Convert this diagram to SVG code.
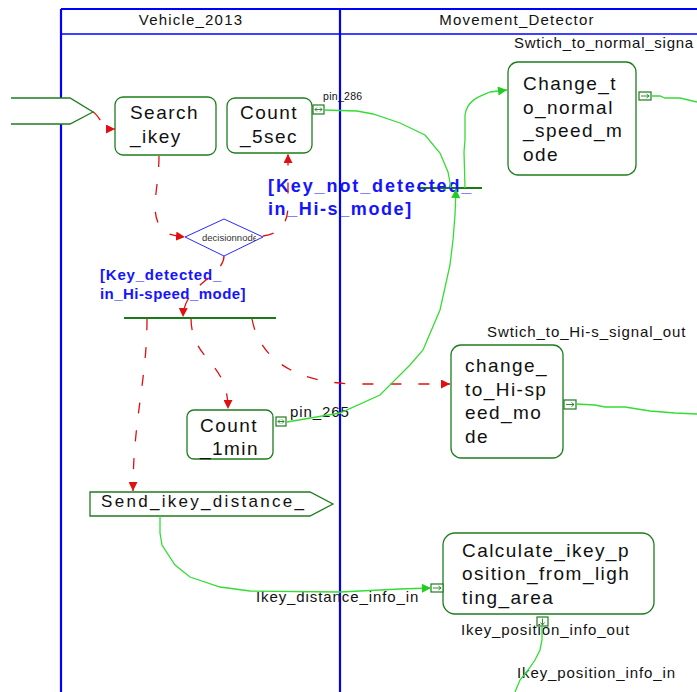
<svg xmlns="http://www.w3.org/2000/svg" width="697" height="692" viewBox="0 0 697 692">
  <defs>
    <style>
      .lane { stroke: #0000ff; stroke-width: 2.2; fill: none; }
      .laneSep { stroke: #0000ff; stroke-width: 1.4; fill: none; }
      .laneTitle { font-family: "Liberation Sans", Arial, sans-serif; font-size: 15px; letter-spacing: 1.2px; fill: #111; text-anchor: middle; }
      .node { fill: #ffffff; stroke: #1e7d1e; stroke-width: 1.3; }
      .nodeText { font-family: "Liberation Sans", Arial, sans-serif; font-size: 19px; letter-spacing: 1.45px; fill: #111; }
      .pin { fill: #ffffff; stroke: #1e7d1e; stroke-width: 1.2; }
      .pinGlyph { fill: none; stroke: #1e7d1e; stroke-width: 0.9; }
      .label { font-family: "Liberation Sans", Arial, sans-serif; font-size: 15px; letter-spacing: 0.9px; fill: #111; }
      .guard { font-family: "Liberation Sans", Arial, sans-serif; font-weight: bold; fill: #1414ff; }
      .bar { stroke: #1a7a1a; stroke-width: 2; }
      .ctrl { fill: none; stroke: #e01010; stroke-width: 1.3; stroke-dasharray: 11 17; }
      .obj { fill: none; stroke: #33dd33; stroke-width: 1.3; }
    </style>
    <marker id="redArrow" viewBox="0 0 10 10" refX="10" refY="5" markerWidth="9" markerHeight="9" markerUnits="userSpaceOnUse" orient="auto">
      <path d="M0,0 L10,5 L0,10 Z" fill="#e01010"/>
    </marker>
    <marker id="greenArrow" viewBox="0 0 10 10" refX="10" refY="5" markerWidth="10" markerHeight="9" markerUnits="userSpaceOnUse" orient="auto">
      <path d="M0,0 L10,5 L0,10 Z" fill="#22cc22"/>
    </marker>
    <clipPath id="diamondClip">
      <rect x="190" y="225" width="66" height="24"/>
    </clipPath>
  </defs>

  <!-- swimlane frame -->
  <g id="lanes">
    <line class="lane" x1="61" y1="9" x2="697" y2="9"/>
    <line class="lane" x1="61" y1="9" x2="61" y2="692"/>
    <line class="lane" x1="340" y1="9" x2="340" y2="692"/>
    <line class="laneSep" x1="61" y1="34" x2="697" y2="34"/>
    <text class="laneTitle" x="191" y="25">Vehicle_2013</text>
    <text class="laneTitle" x="517" y="25">Movement_Detector</text>
  </g>

  <!-- accept-signal entry, open on its left side -->
  <g id="input_signal">
    <polygon points="11,98 70,98 93,112 70,124 11,124" fill="#ffffff"/>
    <path class="node" d="M11,98 L70,98 L93,112 L70,124 L11,124" fill="none"/>
  </g>

  <g id="search_ikey">
    <rect class="node" x="115" y="97" width="101" height="58" rx="8"/>
    <text class="nodeText" x="130" y="119">Search</text>
    <text class="nodeText" x="130" y="143">_ikey</text>
  </g>

  <g id="count_5sec">
    <rect class="node" x="227" y="98" width="85" height="55" rx="8"/>
    <text class="nodeText" x="240" y="119">Count</text>
    <text class="nodeText" x="240" y="143">_5sec</text>
    <rect class="pin" x="313" y="105" width="11" height="9"/>
    <path class="pinGlyph" d="M315,109.5 H322 M317,107.5 L315,109.5 L317,111.5 M320,107.5 L322,109.5 L320,111.5"/>
    <text class="label" x="323" y="100" style="font-size:10.5px;letter-spacing:0.3px">pin_286</text>
  </g>

  <g id="decision">
    <polygon points="185,237 224,219 263,237 224,256" fill="#ffffff" stroke="#2a2aff" stroke-width="1"/>
    <text x="202" y="241" clip-path="url(#diamondClip)" font-family="Liberation Sans, Arial, sans-serif" font-size="9.5" fill="#333">decisionnode</text>
  </g>

  <g id="fork_lower">
    <line class="bar" x1="124" y1="318" x2="276" y2="318"/>
  </g>

  <g id="join_upper">
    <line class="bar" x1="417" y1="188" x2="482" y2="188"/>
  </g>

  <g id="count_1min">
    <rect class="node" x="187" y="410" width="86" height="49" rx="7"/>
    <text class="nodeText" x="200" y="432">Count</text>
    <text class="nodeText" x="200" y="455">_1min</text>
    <rect class="pin" x="276" y="417" width="10" height="9"/>
    <path class="pinGlyph" d="M278,421.5 H284 M280,419.5 L278,421.5 L280,423.5 M282,419.5 L284,421.5 L282,423.5"/>
    <text class="label" x="290" y="417">pin_265</text>
  </g>

  <g id="send_ikey_distance">
    <polygon class="node" points="90,492 310,492 333,504 310,516 90,516"/>
    <text class="nodeText" x="101" y="507" style="font-size:17px;letter-spacing:2.3px">Send_ikey_distance_</text>
  </g>

  <g id="change_to_normal_speed_mode">
    <rect class="node" x="508" y="62" width="128" height="113" rx="10"/>
    <text class="nodeText" x="523" y="90">Change_t</text>
    <text class="nodeText" x="523" y="114">o_normal</text>
    <text class="nodeText" x="523" y="137">_speed_m</text>
    <text class="nodeText" x="523" y="161">ode</text>
    <rect class="pin" x="639" y="92" width="12" height="8"/>
    <path class="pinGlyph" d="M641,96 H649 M646.5,94 L649,96 L646.5,98"/>
    <text class="label" x="514" y="48" style="letter-spacing:0.75px">Swtich_to_normal_signa</text>
  </g>

  <g id="change_to_hi_speed_mode">
    <rect class="node" x="451" y="345" width="112" height="113" rx="10"/>
    <text class="nodeText" x="465" y="372">change_</text>
    <text class="nodeText" x="465" y="396">to_Hi-sp</text>
    <text class="nodeText" x="465" y="419">eed_mo</text>
    <text class="nodeText" x="465" y="443">de</text>
    <rect class="pin" x="564" y="400" width="12" height="9"/>
    <path class="pinGlyph" d="M566,404.5 H574 M571.5,402.5 L574,404.5 L571.5,406.5"/>
    <text class="label" x="487" y="337">Swtich_to_Hi-s_signal_out</text>
  </g>

  <g id="calculate_ikey_position">
    <rect class="node" x="443" y="533" width="211" height="81" rx="12"/>
    <text class="nodeText" x="462" y="557">Calculate_ikey_p</text>
    <text class="nodeText" x="462" y="580">osition_from_ligh</text>
    <text class="nodeText" x="462" y="604">ting_area</text>
    <rect class="pin" x="431" y="584" width="12" height="8"/>
    <path class="pinGlyph" d="M433,588 H441 M438.5,586 L441,588 L438.5,590"/>
    <rect class="pin" x="537" y="617" width="11" height="9"/>
    <path class="pinGlyph" d="M542.5,618.5 V625 M540.5,622.5 L542.5,625 L544.5,622.5"/>
    <text class="label" x="256" y="602">Ikey_distance_info_in</text>
    <text class="label" x="461" y="635">Ikey_position_info_out</text>
    <text class="label" x="517" y="678">Ikey_position_info_in</text>
  </g>

  <!-- guard conditions -->
  <g id="guards">
    <text class="guard" x="268" y="192" style="font-size:18px;letter-spacing:1.9px">[Key_not_detected_</text>
    <text class="guard" x="268" y="215" style="font-size:18px;letter-spacing:1.6px">in_Hi-s_mode]</text>
    <text class="guard" x="100" y="280" style="font-size:15px;letter-spacing:0.8px">[Key_detected_</text>
    <text class="guard" x="100" y="299" style="font-size:15px;letter-spacing:0.45px">in_Hi-speed_mode]</text>
  </g>

  <g id="connectors">
    <!-- control flow -->
    <path class="ctrl" d="M93,112 C101,116 100,129 115,129" marker-end="url(#redArrow)" stroke-dasharray="9 8"/>
    <path class="ctrl" d="M159,156 C159,190 148,214 163,230 C168,235 175,236 185,237" marker-end="url(#redArrow)"/>
    <path class="ctrl" d="M263,236 C278,234 288,226 288,205 L288,154" marker-end="url(#redArrow)"/>
    <path class="ctrl" d="M224,256 C224,276 184,284 183,317" marker-end="url(#redArrow)" stroke-dasharray="10 18"/>
    <path class="ctrl" d="M147,319 C147,380 133,420 133,491" marker-end="url(#redArrow)"/>
    <path class="ctrl" d="M191,319 C192,362 228,360 228,409" marker-end="url(#redArrow)"/>
    <path class="ctrl" d="M252,319 C260,362 300,384 360,384 L450,384" marker-end="url(#redArrow)"/>

    <!-- object flow -->
    <path class="obj" d="M324,110 L357,111 L373,114 L400,123 L425,135 L440,153 L448,172 L451,188"/>
    <path class="obj" d="M287,422 L340,413 L380,395 L410,365 L423,350 L440,310 L450,265 L453,240 L455,215 L456,189" marker-end="url(#greenArrow)"/>
    <path class="obj" d="M465,188 L464,152 L465,140 L465,115 C467,100 480,96 490,92 L507,90" marker-end="url(#greenArrow)"/>
    <path class="obj" d="M651,96 L660,96 L665,98 L680,98 L697,102"/>
    <path class="obj" d="M576,404 L595,405 L605,407 L625,407 L650,411 L675,413 L697,414"/>
    <path class="obj" d="M160,516 L160,533 L162,545 L175,565 L190,577 L220,587 L250,591 L340,592 L400,589 L431,588" marker-end="url(#greenArrow)"/>
    <path class="obj" d="M542,627 L542,640 L540,650 L535,660 L528,670 L520,680 L515,692"/>
  </g>
</svg>
